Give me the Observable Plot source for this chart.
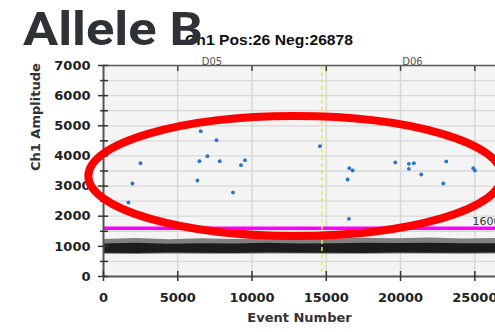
<!DOCTYPE html>
<html><head><meta charset="utf-8">
<script src="https://cdn.jsdelivr.net/npm/d3@7"></script>
<script src="https://cdn.jsdelivr.net/npm/@observablehq/plot@0.6"></script>
<style>
html,body{margin:0;padding:0;background:#fff;overflow:hidden;}
#wrap{position:relative;width:495px;height:332px;overflow:hidden;}
#wrap svg{display:block;}
#overlay{position:absolute;left:0;top:0;pointer-events:none;}
</style></head>
<body><div id="wrap"></div>
<script>
// ---- data ----
const titleText = "Allele B";
const subtitleText = "Ch1 Pos:26 Neg:26878";
const xLabel = "Event Number";
const yLabel = "Ch1 Amplitude";
const xTicks = [0, 5000, 10000, 15000, 20000, 25000];
const yTicks = [0, 1000, 2000, 3000, 4000, 5000, 6000, 7000];
const yMinorTicks = [500, 1500, 2500, 3500, 4500, 5500, 6500];
const yGrid = [500, 1000, 1500, 2000, 2500, 3000, 3500, 4000, 4500, 5000, 5500, 6000, 6500];
const xGrid = [5000, 10000, 15000, 20000, 25000];
const wellNames = ["D05", "D06"];
const wellCenters = [7300, 20800];
const wellBoundary = [14707];
const threshold = [1600];

// positive droplets (event number, amplitude)
const posEvent = [1682, 1951, 2489, 6324, 6459, 6546, 6997, 7603, 7825, 8720, 9258, 9527,
  14573, 16551, 16773, 16437, 16524, 19646, 20561, 20561, 20897, 21395, 23077, 22875, 24894, 25001];
const posAmp = [2455, 3086, 3759, 3185, 3826, 4821, 3992, 4522, 3826, 2787, 3693, 3859,
  4323, 3593, 3517, 3218, 1914, 3783, 3739, 3573, 3759, 3384, 3816, 3086, 3593, 3517];

// negative droplet cloud (envelope)
const bandEvent = [0, 2200, 4400, 6600, 8800, 11000, 13200, 15400, 17600, 19800, 22000, 24200, 26400];
const bandHigh = [1230, 1260, 1220, 1250, 1230, 1270, 1220, 1240, 1270, 1250, 1280, 1240, 1260];
const bandLow = [740, 730, 750, 740, 735, 750, 745, 740, 735, 750, 745, 740, 750];
const coreHigh = [1080, 1100, 1070, 1090, 1080, 1100, 1080, 1085, 1100, 1095, 1100, 1090, 1090];
const coreLow = [770, 765, 780, 770, 765, 780, 775, 770, 765, 780, 775, 770, 780];

// annotation ellipse (data units)
const ellipseCenter = [12937, 3318];
const ellipseRadii = [13926, 1991];

// ---- build ----
const points = posEvent.map((x, i) => ({x, y: posAmp[i]}));
const band = bandEvent.map((x, i) => ({x, hi: bandHigh[i], lo: bandLow[i], chi: coreHigh[i], clo: coreLow[i]}));
const wells = wellNames.map((name, i) => ({name, x: wellCenters[i]}));

function ellipseMark(index, scales) {
  const [cx, cy] = ellipseCenter, [rx, ry] = ellipseRadii;
  const x = scales.x, y = scales.y;
  return d3.create("svg:ellipse")
    .attr("cx", x(cx)).attr("cy", y(cy))
    .attr("rx", x(cx + rx) - x(cx)).attr("ry", y(cy) - y(cy + ry))
    .attr("fill", "none").attr("stroke", "#ff0000").attr("stroke-width", 8)
    .node();
}

const labelFont = {fontFamily: "DejaVu Sans", fontSize: 13, fontWeight: "bold", fill: "#222"};

const chart = Plot.plot({
  width: 495,
  height: 332,
  marginTop: 65,
  marginBottom: 56,
  marginLeft: 103,
  marginRight: 0,
  style: {fontFamily: "DejaVu Sans", fontSize: "13px", fontWeight: "bold", color: "#222", background: "#fff", overflow: "visible"},
  x: {domain: [0, 26393], axis: null},
  y: {domain: [0, 7000], axis: null},
  marks: [
    Plot.frame({fill: "#f4f4f4", stroke: null}),
    Plot.gridY(yGrid, {stroke: "#d8d8d8", strokeOpacity: 1, strokeWidth: 1.3}),
    Plot.gridX(xGrid, {stroke: "#d8d8d8", strokeOpacity: 1, strokeWidth: 1.5}),
    Plot.areaY(band, {x: "x", y1: "lo", y2: "hi", fill: "#808080"}),
    Plot.areaY(band, {x: "x", y1: "clo", y2: "chi", fill: "#1c1c1c"}),
    Plot.ruleY(threshold, {stroke: "#ff00ff", strokeWidth: 3.5}),
    Plot.text(threshold, {y: d => d, text: d => String(d), frameAnchor: "right", textAnchor: "start", dx: -23, dy: -7,
      fontFamily: "DejaVu Sans", fontSize: 11, fontWeight: "normal", fill: "#333"}),
    Plot.ruleX(wellBoundary, {stroke: "#f2e44a", strokeWidth: 1.5, strokeDasharray: "4,3"}),
    Plot.dot(points, {x: "x", y: "y", r: 1.9, fill: "#2474d6", stroke: null}),
    // axis lines
    Plot.ruleY([7000], {stroke: "#5a5a5a", strokeWidth: 1.5}),
    Plot.ruleX([0], {stroke: "#555", strokeWidth: 2}),
    Plot.ruleY([0], {stroke: "#555", strokeWidth: 2}),
    // y ticks
    Plot.axisY(yTicks, {anchor: "left", label: null, tickSize: 10, dx: 5, tickFormat: () => "", stroke: "#333", strokeWidth: 1.5}),
    Plot.axisY(yMinorTicks, {anchor: "left", label: null, tickSize: 8, dx: 5, tickFormat: () => "", stroke: "#333", strokeWidth: 1.5}),
    Plot.axisY(yTicks, {anchor: "left", label: null, tickSize: 0, tickPadding: 13, tickFormat: d => String(d), ...labelFont}),
    // x ticks
    Plot.axisX(xTicks, {anchor: "bottom", label: null, tickSize: 10, dy: -5, tickFormat: () => "", stroke: "#333", strokeWidth: 1.5}),
    Plot.axisX(xTicks, {anchor: "bottom", label: null, tickSize: 0, tickPadding: 16, tickFormat: d => String(d), ...labelFont}),
    Plot.axisX(xGrid, {anchor: "top", label: null, tickSize: 5, dy: 5, tickFormat: () => "", stroke: "#444", strokeWidth: 1.5}),
    // well labels
    Plot.text(wells, {x: "x", text: "name", frameAnchor: "top", dy: -8, fontFamily: "DejaVu Sans", fontSize: 10, fontWeight: "normal", fill: "#555"}),
    // axis titles
    Plot.text([xLabel], {text: d => d, frameAnchor: "bottom", dy: 45, ...labelFont, fill: "#333"}),
    Plot.text([yLabel], {text: d => d, frameAnchor: "left", rotate: -90, dx: -68, ...labelFont, fill: "#333"}),
    // annotation
    ellipseMark
  ]
});

const wrap = document.getElementById("wrap");
wrap.appendChild(chart);

const overlay = d3.select(wrap).append("svg")
  .attr("id", "overlay").attr("width", 495).attr("height", 80);
overlay.append("text")
  .attr("x", 185).attr("y", 45)
  .attr("font-family", "Liberation Sans").attr("font-weight", "bold").attr("font-size", 15.5)
  .attr("textLength", 168).attr("lengthAdjust", "spacingAndGlyphs")
  .attr("fill", "#111").text(subtitleText);
overlay.append("text")
  .attr("x", 23).attr("y", 45)
  .attr("font-family", "Roboto").attr("font-weight", "bold").attr("font-size", 46)
  .attr("textLength", 180).attr("lengthAdjust", "spacingAndGlyphs")
  .attr("fill", "#2e3236").text(titleText);
</script>
</body></html>
